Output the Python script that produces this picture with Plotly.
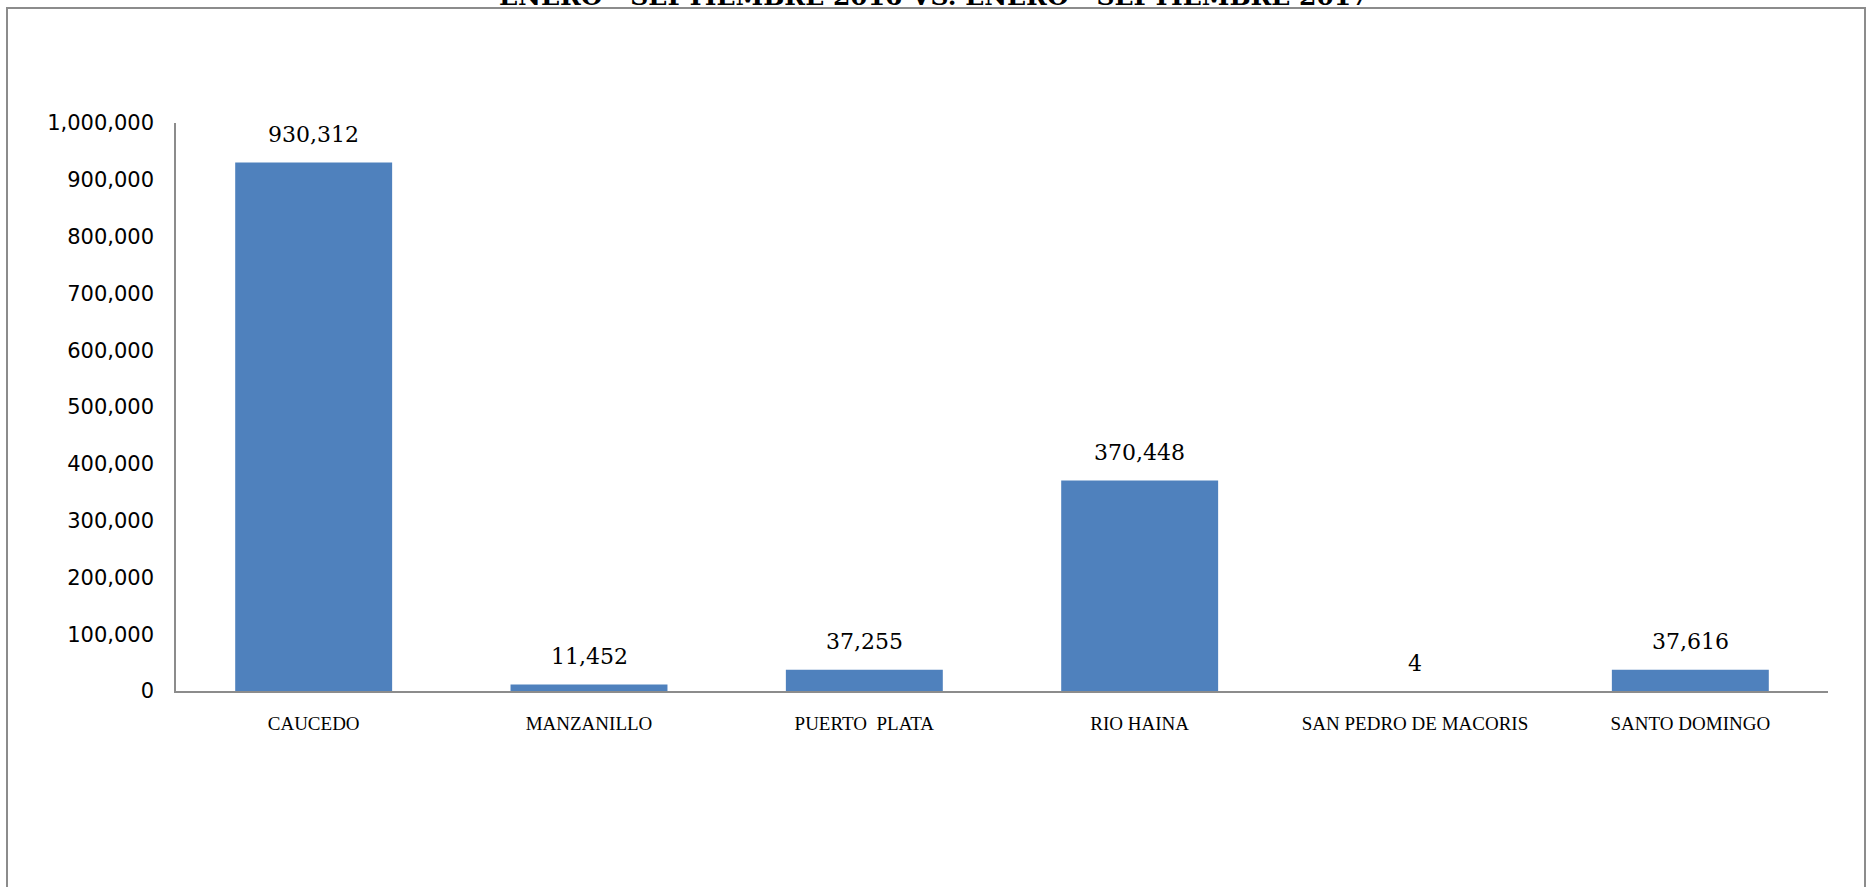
import plotly.graph_objects as go

# ---- data ----
ports = ["CAUCEDO", "MANZANILLO", "PUERTO  PLATA", "RIO HAINA", "SAN PEDRO DE MACORIS", "SANTO DOMINGO"]
values = [930312, 11452, 37255, 370448, 4, 37616]
label_texts = ["930,312", "11,452", "37,255", "370,448", "4", "37,616"]
y_tick_vals = [0, 100000, 200000, 300000, 400000, 500000, 600000, 700000, 800000, 900000, 1000000]
title_text = "ENERO - SEPTIEMBRE 2016 VS. ENERO - SEPTIEMBRE 2017"

W, H = 1868, 887
L, R, T, B = 176, 40, 123, 196
pw, ph = W - L - R, H - T - B

def px_x(p):
    return (p - L) / pw

def px_y(p):
    return (H - B - p) / ph

fig = go.Figure()
fig.add_trace(go.Bar(
    x=ports, y=values,
    marker=dict(color="#4F81BD", line=dict(width=0)),
    hoverinfo="x+y",
))

annotations = []
for p, v, t in zip(ports, values, label_texts):
    annotations.append(dict(
        x=p, y=v, xref="x", yref="y", text=t, showarrow=False,
        yanchor="middle", yshift=28,
        font=dict(family="DejaVu Serif", size=22, color="#000000"),
    ))

annotations.append(dict(
    x=px_x(W / 2), y=px_y(13), xref="paper", yref="paper",
    text="<b>" + title_text + "</b>", showarrow=False,
    xanchor="center", yanchor="bottom",
    font=dict(family="DejaVu Serif", size=25, color="#000000"),
))

fig.update_layout(
    width=W, height=H,
    margin=dict(l=L, r=R, t=T, b=B, pad=0),
    paper_bgcolor="#ffffff", plot_bgcolor="#ffffff",
    showlegend=False,
    bargap=0.43,
    annotations=annotations,
    shapes=[dict(
        type="rect", xref="paper", yref="paper",
        x0=px_x(7), x1=px_x(1865), y0=px_y(8), y1=px_y(960),
        line=dict(color="#8c8c8c", width=2), fillcolor="rgba(0,0,0,0)", layer="below",
    )],
    xaxis=dict(
        showgrid=False, zeroline=False, showline=True, linecolor="#8c8c8c", linewidth=2,
        ticks="", ticklabelstandoff=14,
        tickfont=dict(family="Liberation Serif", size=19, color="#000000"),
    ),
    yaxis=dict(
        range=[0, 1000000], tickvals=y_tick_vals, tickformat=",d",
        showgrid=False, zeroline=False, showline=True, linecolor="#8c8c8c", linewidth=1.5,
        ticks="", ticklabelstandoff=16,
        tickfont=dict(family="DejaVu Sans", size=21, color="#000000"),
    ),
)

fig.write_html("out.html", config={"displayModeBar": False},
               post_script="document.body.style.margin='0';document.body.style.overflow='hidden';")
